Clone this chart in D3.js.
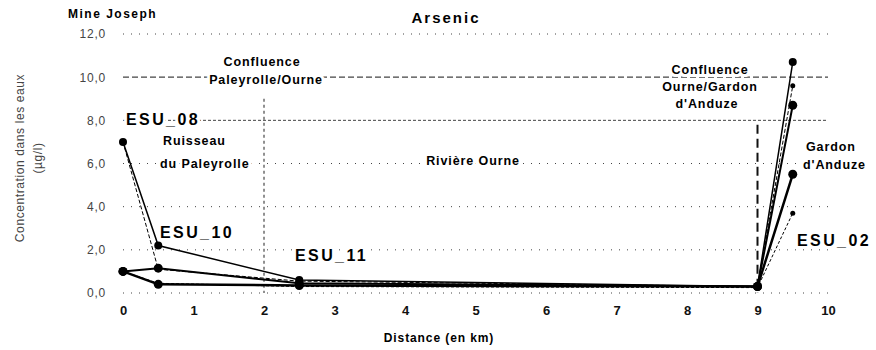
<!DOCTYPE html>
<meta charset="utf-8">
<script src="https://d3js.org/d3.v7.min.js"></script>
<style>
  body { margin: 0; background: #fff; }
  text { font-family: "Liberation Sans", Arial, sans-serif; }
</style>
<div id="chart"></div>
<script>
    // distances (km) of the sampling points
    const distances = [0, 0.5, 2.5, 9, 9.5];
    // arsenic concentration (µg/l)
    const serieA = [7.0, 2.2, 0.6, 0.3, 10.7];
    const serieB = [7.0, 1.1, 0.55, 0.3, 9.6];
    const serieC = [1.0, 1.15, 0.45, 0.3, 8.7];
    const serieD = [1.0, 0.4, 0.35, 0.3, 5.5];
    const serieE = [1.0, 0.45, 0.3, 0.25, 3.7];
    const xTicks = [0, 1, 2, 3, 4, 5, 6, 7, 8, 9, 10];
    const yTicks = [0, 2, 4, 6, 8, 10, 12];
    const confluences = [2, 9];

    const width = 876, height = 350;
    const svg = d3.select("#chart").append("svg")
        .attr("width", width)
        .attr("height", height);

    const x = d3.scaleLinear().domain([0, 10]).range([123, 828]);
    const y = d3.scaleLinear().domain([0, 12]).range([293, 34]);

    // gridlines
    svg.append("g").selectAll("line")
        .data(yTicks)
        .join("line")
            .attr("x1", x(0)).attr("x2", x(10))
            .attr("y1", d => y(d)).attr("y2", d => y(d))
            .attr("stroke", "#444")
            .attr("stroke-width", d => d == 10 ? 1.3 : 1)
            .attr("stroke-dasharray", d => d == 10 ? "6,3" : d == 8 ? "3,2" : "1,7");

    // confluence lines
    svg.append("line")
        .attr("x1", x(confluences[0])).attr("x2", x(confluences[0]))
        .attr("y1", y(9.0)).attr("y2", y(0))
        .attr("stroke", "#222").attr("stroke-width", 1).attr("stroke-dasharray", "3,3");
    svg.append("line")
        .attr("x1", x(confluences[1])).attr("x2", x(confluences[1]))
        .attr("y1", y(7.8)).attr("y2", y(0))
        .attr("stroke", "#111").attr("stroke-width", 2).attr("stroke-dasharray", "9,5");

    // axes labels
    const yAxis = d3.axisLeft(y).tickValues(yTicks).tickSize(0).tickPadding(0)
        .tickFormat(d => d3.format(".1f")(d).replace(".", ","));
    svg.append("g")
        .attr("transform", `translate(106,0)`)
        .call(yAxis)
        .call(g => g.select(".domain").remove())
        .selectAll("text")
            .attr("font-size", 12)
            .attr("letter-spacing", 0.8)
            .attr("fill", "#444");

    const xAxis = d3.axisBottom(x).tickValues(xTicks).tickSize(0).tickPadding(0);
    svg.append("g")
        .attr("transform", `translate(0,306)`)
        .call(xAxis)
        .call(g => g.select(".domain").remove())
        .selectAll("text")
            .attr("font-size", 13)
            .attr("font-weight", "bold")
            .attr("fill", "#111");

    // series
    const series = [
        {values: serieA, width: 1.5, dash: null, r: 4},
        {values: serieB, width: 1, dash: "4,2", r: 2.5},
        {values: serieC, width: 2, dash: null, r: 4.5},
        {values: serieD, width: 2.5, dash: null, r: 4.5},
        {values: serieE, width: 1, dash: "3,2", r: 2.5}
    ];
    const line = d3.line()
        .x((d, i) => x(distances[i]))
        .y(d => y(d));

    svg.append("g").selectAll("path")
        .data(series)
        .join("path")
            .attr("fill", "none")
            .attr("stroke", "#000")
            .attr("stroke-width", d => d.width)
            .attr("stroke-dasharray", d => d.dash)
            .attr("d", d => line(d.values));

    series.forEach(s => {
        svg.append("g").selectAll("circle")
            .data(s.values)
            .join("circle")
                .attr("cx", (d, i) => x(distances[i]))
                .attr("cy", d => y(d))
                .attr("r", s.r)
                .attr("fill", "#000");
    });

    // annotations
    const label = (t, px, py, opt = {}) => svg.append("text")
        .attr("x", px).attr("y", py)
        .attr("text-anchor", opt.anchor || "start")
        .attr("font-size", opt.size || 12.5)
        .attr("font-weight", "bold")
        .attr("letter-spacing", opt.ls == null ? 0.9 : opt.ls)
        .attr("fill", "#000")
        .attr("stroke", "#fff").attr("stroke-width", 6)
        .attr("paint-order", "stroke")
        .text(t);

    label("Arsenic", 446, 23, {anchor: "middle", size: 15, ls: 2});
    label("Mine Joseph", 68, 18, {size: 12, ls: 1.5});
    label("Confluence", 262, 66, {anchor: "middle"});
    label("Paleyrolle/Ourne", 266, 84, {anchor: "middle"});
    label("ESU_08", 126, 125, {size: 16, ls: 2.4});
    label("Ruisseau", 163, 145);
    label("du Paleyrolle", 160, 168);
    label("ESU_10", 160, 238, {size: 16, ls: 2.4});
    label("ESU_11", 295, 261, {size: 16, ls: 2.4});
    label("Rivière Ourne", 473, 165, {anchor: "middle"});
    label("Confluence", 710, 74, {anchor: "middle"});
    label("Ourne/Gardon", 710, 91, {anchor: "middle"});
    label("d'Anduze", 707, 108, {anchor: "middle"});
    label("Gardon", 806, 151);
    label("d'Anduze", 803, 169);
    label("ESU_02", 797, 246, {size: 16, ls: 2.4});

    label("Distance (en km)", 439, 342, {anchor: "middle", size: 12, ls: 0.9});

    const yTitle = svg.append("text")
        .attr("transform", "translate(24,158) rotate(-90)")
        .attr("text-anchor", "middle")
        .attr("font-size", 12)
        .attr("letter-spacing", 0.6)
        .attr("fill", "#444");
    yTitle.append("tspan").attr("x", 0).attr("dy", 0).text("Concentration dans les eaux");
    yTitle.append("tspan").attr("x", 0).attr("dy", 18).text("(µg/l)");
</script>
